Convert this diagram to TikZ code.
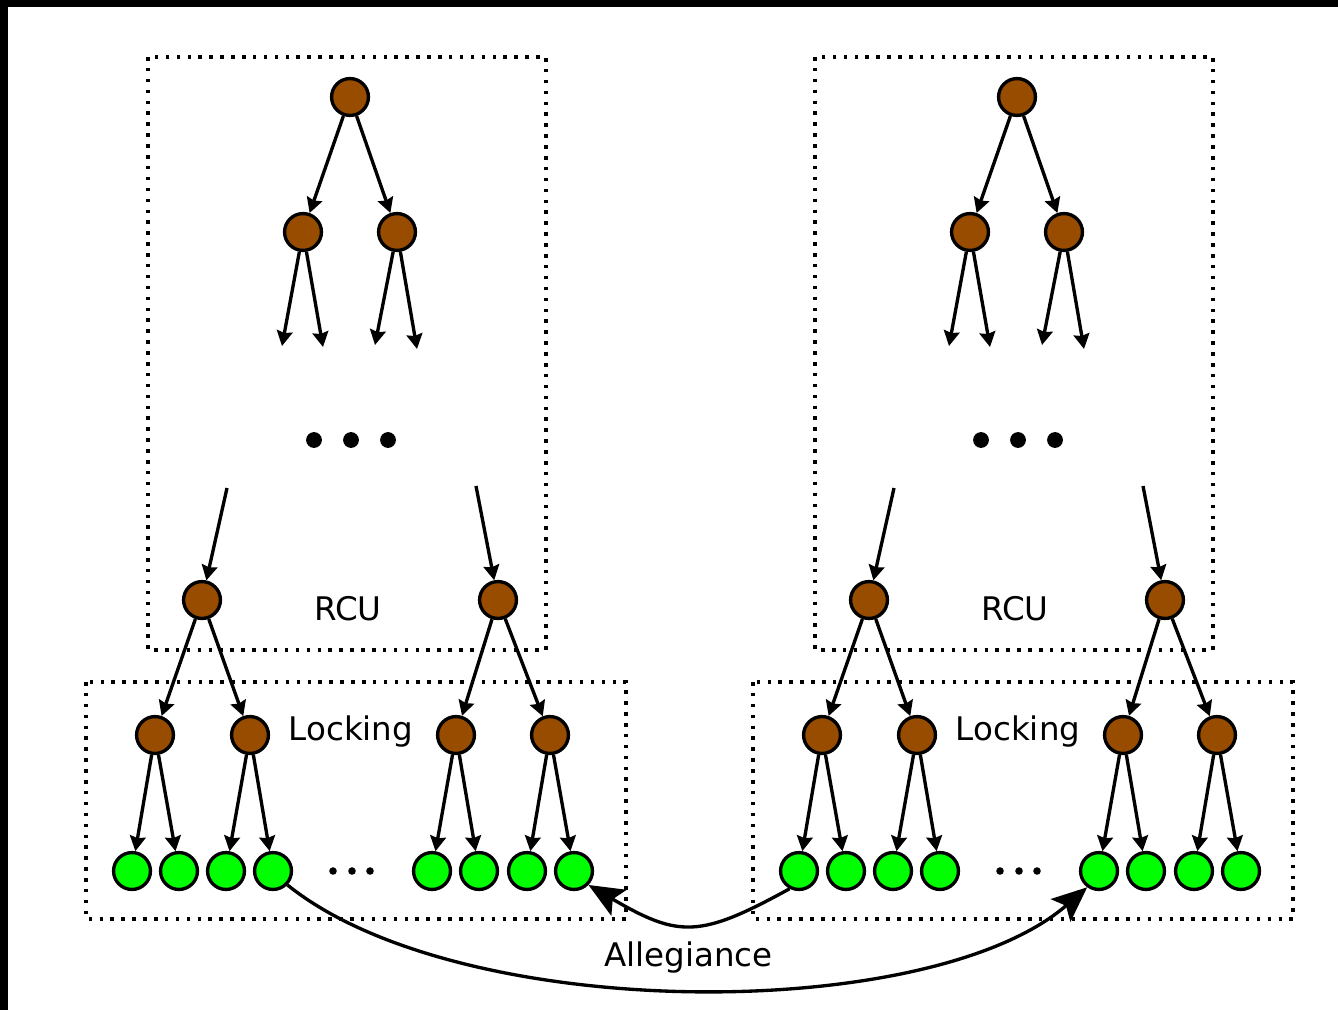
\documentclass[tikz,border=0pt]{standalone}
\usepackage{fontspec}
\setmainfont{DejaVu Sans}
\usetikzlibrary{arrows.meta}
\definecolor{nodebrown}{RGB}{152,76,0}
\definecolor{leafgreen}{RGB}{0,255,0}
\tikzset{
    branch/.style={circle, draw, line width=1.9pt, fill=nodebrown, minimum size=21pt, inner sep=0pt}, % inner tree node
    leaf/.style={circle, draw, line width=1.9pt, fill=leafgreen, minimum size=21pt, inner sep=0pt}, % leaf node
    treearrow/.style={line width=1.9pt, -{Stealth[length=8.5pt, width=9pt, inset=1pt]}},
    link/.style={line width=1.9pt, -{Stealth[length=20pt, width=17pt, inset=4pt]}},
    region/.style={line width=2pt, dash pattern=on 2pt off 4.2pt},
    bigdot/.style={circle, fill, inner sep=0pt, minimum size=9pt},
    smalldot/.style={circle, fill, inner sep=0pt, minimum size=4.3pt},
    boxlabel/.style={font=\fontsize{18.5}{22}\selectfont, anchor=base, inner sep=0pt}
}

\begin{document}
\begin{tikzpicture}[x=0.02cm, y=-0.02cm]
    \useasboundingbox (0,0) rectangle (1338,1010);
    \fill (0,0) rectangle (1338,7.5);
    \fill (0,0) rectangle (7.5,1010);

    \foreach \g/\dx in {L/0, R/667} {
        \begin{scope}[shift={(\dx,0)}]
            \draw[region] (148,57) rectangle (546,650);
            \draw[region] (86,682) rectangle (626,919);

            % upper part of the tree
            \node[branch] (root\g) at (350,97) {};
            \node[branch] (a\g) at (303,232) {};
            \node[branch] (b\g) at (397,232) {};
            \draw[treearrow] (root\g) -- (a\g);
            \draw[treearrow] (root\g) -- (b\g);
            \coordinate (e1\g) at (282,346); \coordinate (e2\g) at (323,347);
            \coordinate (e3\g) at (375,345); \coordinate (e4\g) at (417,349);
            \draw[treearrow] (a\g) -- (e1\g);
            \draw[treearrow] (a\g) -- (e2\g);
            \draw[treearrow] (b\g) -- (e3\g);
            \draw[treearrow] (b\g) -- (e4\g);
            \foreach \x in {314,351,388} {\node[bigdot] (dot\g\x) at (\x,440) {};}

            % lower part of the tree
            \node[branch] (m1\g) at (202,600) {};
            \node[branch] (m2\g) at (498,600) {};
            \coordinate (s1\g) at (227,488); \coordinate (s2\g) at (476,486);
            \draw[treearrow] (s1\g) -- (m1\g);
            \draw[treearrow] (s2\g) -- (m2\g);
            \foreach \i/\x in {1/155,2/250,3/456,4/550} {\node[branch] (l\i\g) at (\x,735) {};}
            \foreach \i/\x in {1/132,2/179,3/226,4/273,5/432,6/479,7/527,8/574} {\node[leaf] (leaf\g\i) at (\x,871) {};}
            \foreach \p/\c in {1/1,1/2,2/3,2/4} {\draw[treearrow] (m\p\g) -- (l\c\g);}
            \foreach \p/\c in {1/1,1/2,2/3,2/4,3/5,3/6,4/7,4/8} {\draw[treearrow] (l\p\g) -- (leaf\g\c);}
            \foreach \x in {333,352,370} {\node[smalldot] (gap\g\x) at (\x,871) {};}

            \node[boxlabel] (rcu\g) at (348,620) {RCU};
            \node[boxlabel] (lock\g) at (351,740) {Locking};
        \end{scope}
    }

    \node[boxlabel] (alleg) at (688.5,966.7) {Allegiance};
    \draw[link] (leafR1.-118) .. controls (700,938) and (679,938) .. (leafL8.-44);
    \draw[link] (leafL4.-44) .. controls (460,1024) and (930,1024) .. (leafR5.-126);
\end{tikzpicture}
\end{document}
